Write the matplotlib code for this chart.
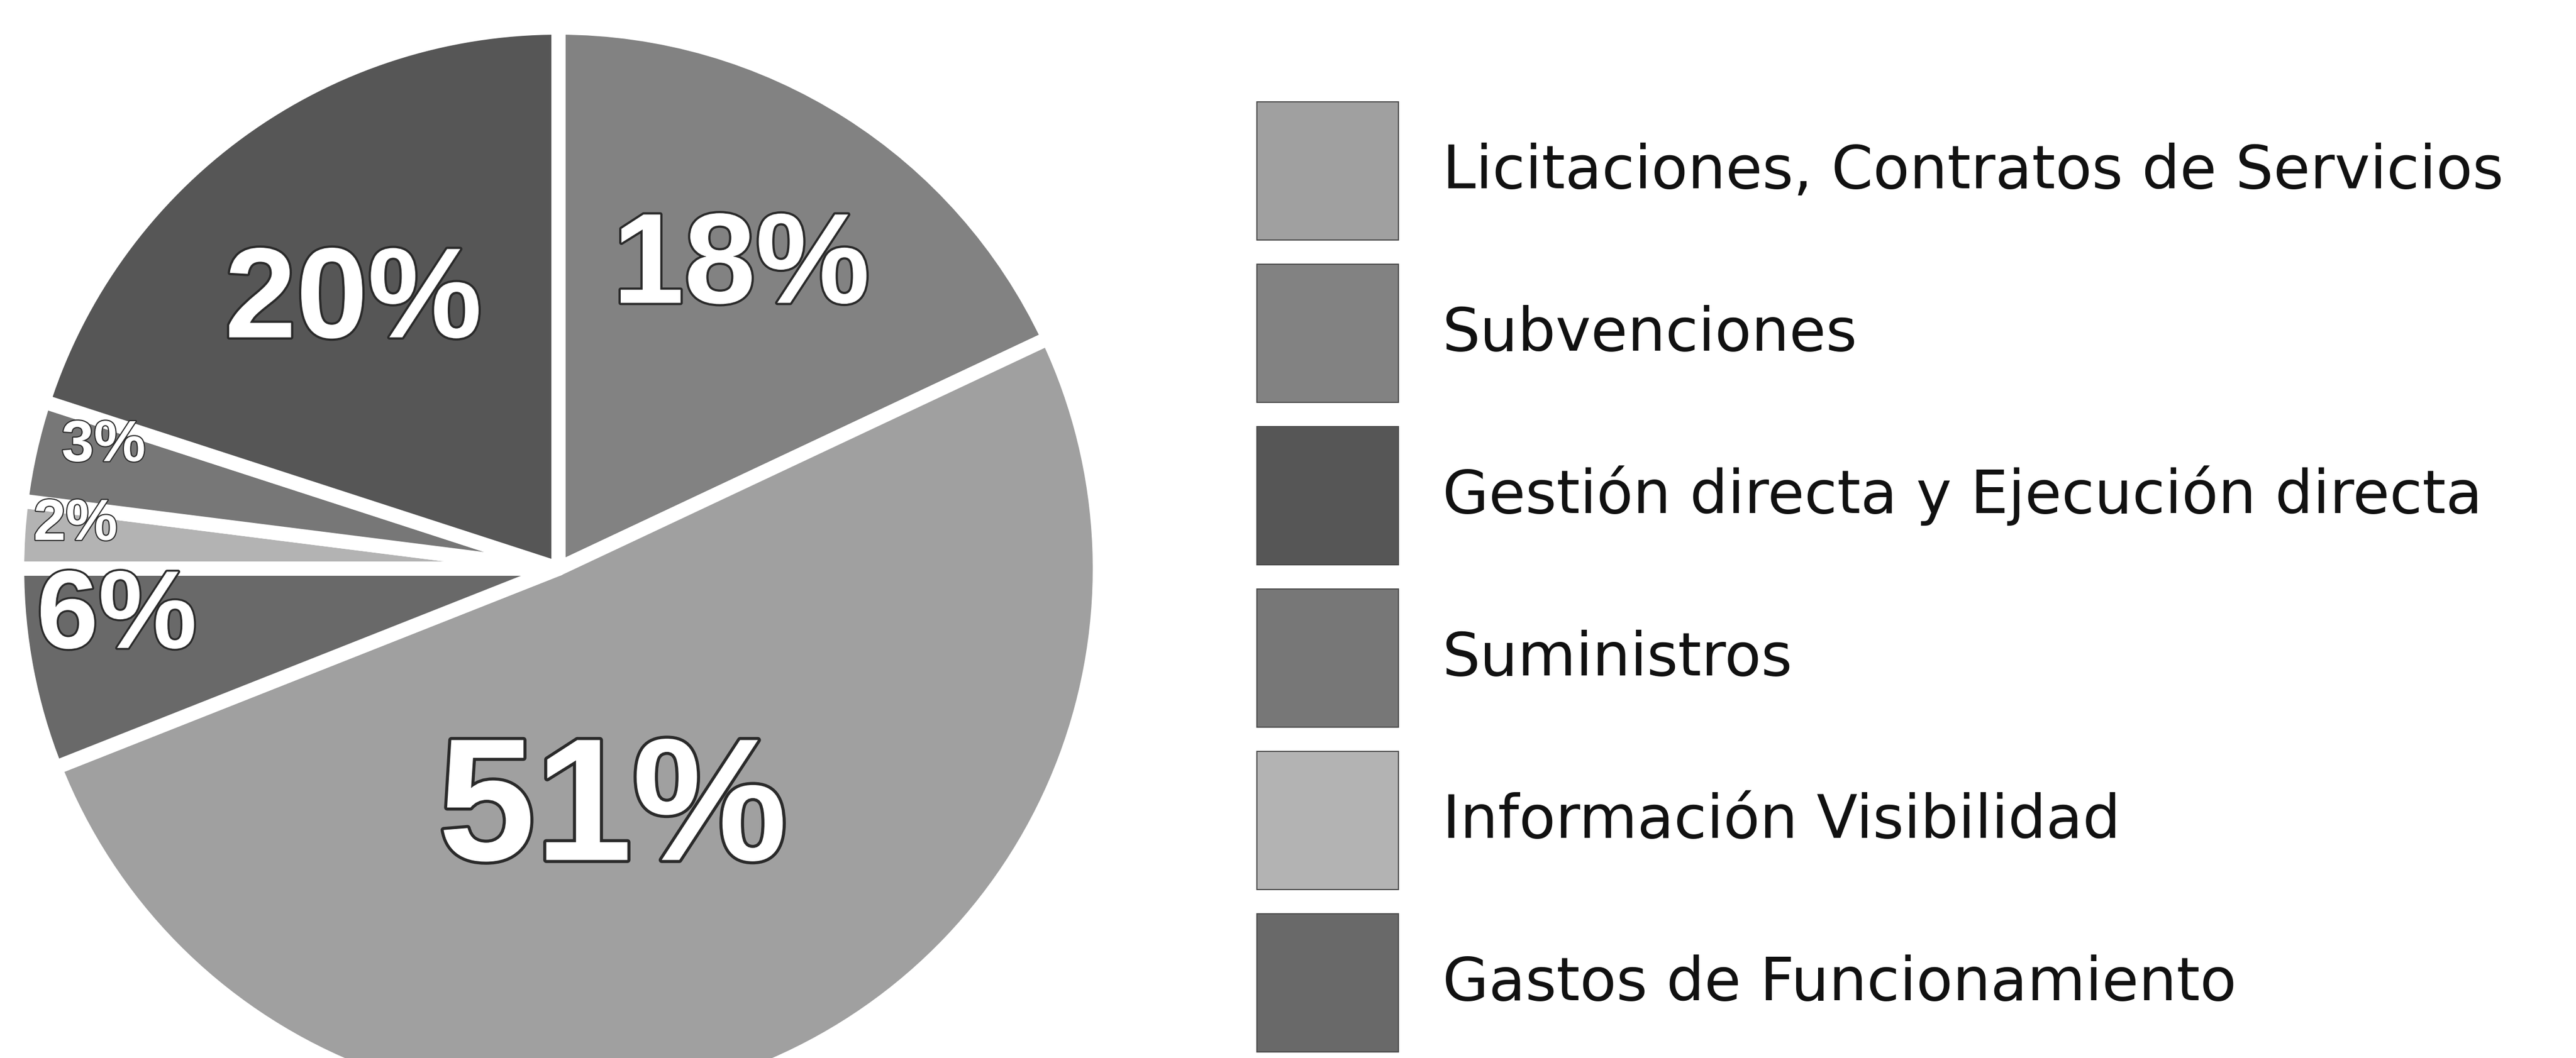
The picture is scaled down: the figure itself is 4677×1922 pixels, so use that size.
import matplotlib
matplotlib.use("Agg")
import matplotlib.pyplot as plt
import matplotlib.patheffects as pe
from matplotlib.patches import Patch
import numpy as np

# ---- data ----
legend_labels = ["Licitaciones, Contratos de Servicios", "Subvenciones",
                 "Gestión directa y Ejecución directa", "Suministros",
                 "Información Visibilidad", "Gastos de Funcionamiento"]
legend_colors = ["#a0a0a0", "#828282", "#565656", "#777777", "#b3b3b3", "#696969"]

pie_categories = ["Subvenciones", "Licitaciones, Contratos de Servicios",
                  "Gastos de Funcionamiento", "Información Visibilidad",
                  "Suministros", "Gestión directa y Ejecución directa"]
pie_values = [18, 51, 6, 2, 3, 20]
pie_labels = ["18%", "51%", "6%", "2%", "3%", "20%"]

# ---- style ----
W, H = 4677, 1922
color_of = dict(zip(legend_labels, legend_colors))
pie_colors = [color_of[c] for c in pie_categories]
label_sizes = [168, 228, 145, 76, 76, 168]
label_rfrac = [0.678, 0.439, 0.830, 0.909, 0.885, 0.647]
label_dang = [2.1, -10.0, -5.7, -2.3, -3.2, 0.4]

px = 72.0 / 100.0          # points per pixel at dpi 100
cx, cy = 1014, H - 1033    # pie centre in pixel data units
R_vis = 970
white_half, dark_half = 13, 16
R2 = R_vis + white_half
R1 = R2 + white_half - dark_half - 2

fig = plt.figure(figsize=(W / 100, H / 100), dpi=100)
fig.patch.set_facecolor("white")
ax = fig.add_axes([0, 0, 1, 1])

ax.pie(pie_values, colors=pie_colors, startangle=90, counterclock=False,
       radius=R1, center=(cx, cy), frame=False,
       wedgeprops=dict(edgecolor="#262626", linewidth=2 * dark_half * px,
                       joinstyle="round"))
wedges, _ = ax.pie(pie_values, colors=pie_colors, startangle=90, counterclock=False,
                   radius=R2, center=(cx, cy), frame=False,
                   wedgeprops=dict(edgecolor="white", linewidth=2 * white_half * px,
                                   joinstyle="round"))

for w, lab, fs, rf, da in zip(wedges, pie_labels, label_sizes, label_rfrac, label_dang):
    mid = np.deg2rad((w.theta1 + w.theta2) / 2 + da)
    x = cx + rf * R_vis * np.cos(mid)
    y = cy + rf * R_vis * np.sin(mid)
    ax.text(x, y, lab, ha="center", va="center_baseline", fontsize=fs, color="white",
            family=["Liberation Sans", "DejaVu Sans"], fontweight="bold",
            path_effects=[pe.withStroke(linewidth=max(3, fs * 0.035), foreground="#2a2a2a")])

ax.set_xlim(0, W)
ax.set_ylim(0, H)
ax.set_aspect("equal")
ax.axis("off")

# ---- legend ----
FS = 78
em = FS / px
patch_h, patch_w, gap = 251, 257, 44
handleheight = (patch_h / em - 0.245) / 0.65
handles = [Patch(facecolor=c, edgecolor="#4a4a4a", linewidth=1.5) for c in legend_colors]
fig.legend(handles, legend_labels, loc="upper left",
           bbox_to_anchor=(2282 / W, 1 - 185 / H), frameon=False,
           borderpad=0, borderaxespad=0,
           prop=dict(family=["DejaVu Sans"], size=FS),
           handlelength=patch_w / em, handleheight=handleheight,
           labelspacing=gap / em, handletextpad=80 / em, labelcolor="#111111")

fig.savefig("out.png", dpi=100, facecolor="white")
